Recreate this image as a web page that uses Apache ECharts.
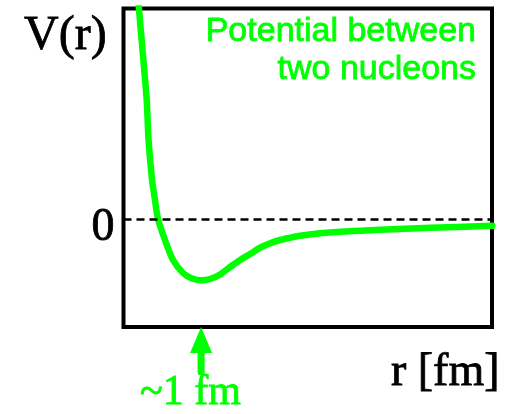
<!DOCTYPE html>
<html>
<head>
<meta charset="utf-8">
<script src="https://cdn.jsdelivr.net/npm/echarts@6/dist/echarts.min.js"></script>
<style>
  html, body { margin: 0; padding: 0; background: #fff; }
  #chart { width: 511px; height: 414px; }
</style>
</head>
<body>
<div id="chart"></div>
<script>
// Nucleon-nucleon potential sketch: separation r [fm] vs. V(r) (arbitrary units)
const rValues = [0.187, 0.245, 0.299, 0.323, 0.368, 0.406, 0.445, 0.535, 0.639, 0.768,
                 0.884, 1.013, 1.116, 1.245, 1.374, 1.503, 1.632, 1.761, 1.890, 2.019,
                 2.148, 2.277, 2.535, 2.794, 3.052, 3.31, 3.955, 4.755];
const vValues = [221, 169, 119, 79, 39, 19, 0, -21, -41, -54,
                 -59.5, -61.3, -60, -55.5, -48, -41, -35, -28.7, -24.3, -21,
                 -18.7, -16.7, -14.3, -12.7, -11.7, -10.7, -8.8, -6.8];
const rRange = [0, 4.75];
const vRange = [-108, 210.5];
const zeroLevel = 0;
const markerR = 1;

const titleLines = ['Potential between', 'two nucleons'];
const yName = 'V(r)';
const xName = 'r [fm]';
const zeroLabel = '0';
const markerLabel = '~1 fm';

const GREEN = '#00ff00';
const SERIF = '"Liberation Serif", "Times New Roman", serif';
const SANS = '"Liberation Sans", Arial, sans-serif';

const chart = echarts.init(document.getElementById('chart'), null, { renderer: 'canvas' });

const hiddenAxis = {
  axisLine: { show: false },
  axisTick: { show: false },
  axisLabel: { show: false },
  splitLine: { show: false }
};

chart.setOption({
  animation: false,
  backgroundColor: '#fff',
  grid: {
    left: 123.5, top: 8.5, right: 19, bottom: 87,
    show: true, borderColor: '#000', borderWidth: 4, backgroundColor: 'transparent'
  },
  xAxis: Object.assign({ type: 'value', min: rRange[0], max: rRange[1] }, hiddenAxis),
  yAxis: Object.assign({ type: 'value', min: vRange[0], max: vRange[1] }, hiddenAxis),
  series: [{
    type: 'line',
    data: rValues.map((r, i) => [r, vValues[i]]),
    smooth: 0.3,
    showSymbol: false,
    clip: true,
    lineStyle: { color: GREEN, width: 6.5, cap: 'round', join: 'round' },
    markLine: {
      silent: true,
      symbol: 'none',
      label: { show: false },
      lineStyle: { color: '#000', type: [8, 5], width: 2.5 },
      data: [{ yAxis: zeroLevel }]
    },
    z: 3
  }]
});

// Annotations placed from the axes' own coordinate system
const zeroPx = chart.convertToPixel({ gridIndex: 0 }, [rRange[0], zeroLevel]);
const markerTop = chart.convertToPixel({ gridIndex: 0 }, [markerR, vRange[0]]);
const mx = markerTop[0];
const my = markerTop[1];

function label(text, x, y, font, color, align) {
  return {
    type: 'text', x: x, y: y,
    style: { text: text, font: font, fill: color, stroke: color, lineWidth: 0.8,
             align: align, verticalAlign: 'middle' }
  };
}

chart.setOption({
  graphic: [
    label(yName, 24, 36.8, '48px ' + SERIF, '#000', 'left'),
    label(zeroLabel, zeroPx[0] - 9, zeroPx[1] + 8.5, '46px ' + SERIF, '#000', 'right'),
    label(xName, 499.5, 372.5, '46px ' + SERIF, '#000', 'right'),
    label(titleLines[0], 476, 31.5, '34px ' + SANS, GREEN, 'right'),
    label(titleLines[1], 476, 70, '34px ' + SANS, GREEN, 'right'),
    // arrow pointing at the minimum position on the r axis
    { type: 'polygon',
      shape: { points: [[mx, my], [mx - 11, my + 26], [mx + 11, my + 26]] },
      style: { fill: GREEN } },
    { type: 'line',
      shape: { x1: mx, y1: my + 24, x2: mx, y2: my + 45 },
      style: { stroke: GREEN, lineWidth: 7, lineCap: 'round' } },
    label(markerLabel, mx - 61, 393, '42px ' + SERIF, GREEN, 'left')
  ]
});
</script>
</body>
</html>
